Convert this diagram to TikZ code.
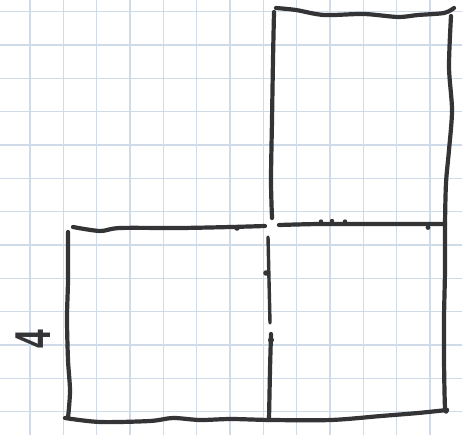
\documentclass[tikz,border=0pt]{standalone}
\usepackage{fontspec}
\newfontfamily\handfont{Liberation Sans}
\definecolor{gridblue}{RGB}{208,219,234}
\definecolor{ink}{RGB}{52,52,54}
\begin{document}
\begin{tikzpicture}[x=1pt,y=-1pt,
  gridline/.style={gridblue,line width=1.5pt},
  pen/.style={ink,line width=4.2pt,line cap=round,line join=round},
  blob/.style={ink,fill=ink}]
\useasboundingbox (0,0) rectangle (462,435);
\fill[white] (0,0) rectangle (462,435);
% grid paper
\foreach \i in {0,...,13} {
  \draw[gridline] ({30+33.33*\i},0) -- ({30+33.33*\i},435);
}
\foreach \j in {0,...,12} {
  \draw[gridline] (0,{11.7+33.33*\j}) -- (462,{11.7+33.33*\j});
}
% top-right square
\draw[pen] plot[smooth,tension=0.5] coordinates {(274,12) (273,60) (272,120) (271,180) (272,218)};
\draw[pen] plot[smooth,tension=0.5] coordinates {(276,8) (296,10) (324,15) (364,14) (398,17) (418,15) (444,13) (454,8)};
\draw[pen] plot[smooth,tension=0.5] coordinates {(451,16) (449,67) (452,110) (449,150) (446,183) (445,225) (445,270) (444,318) (444,360) (445,408) (447,410)};
% middle horizontal line
\draw[pen] plot[smooth,tension=0.5] coordinates {(73,227) (100,231) (120,228) (180,228) (231,227) (265,226)};
\draw[pen] plot[smooth,tension=0.5] coordinates {(279,225) (320,224) (380,224) (445,224)};
% bottom-left rectangle
\draw[pen] plot[smooth,tension=0.5] coordinates {(68,232) (68,280) (67,318) (68,360) (70,391) (68,418)};
\draw[pen] plot[smooth,tension=0.5] coordinates {(65,418) (100,422) (150,421) (173,418) (200,420) (231,419) (271,420) (331,420) (381,416) (418,413) (447,410)};
% divider
\draw[pen,line width=3.4pt] plot[smooth,tension=0.5] coordinates {(268,237) (269,280) (270,323)};
\draw[pen] plot[smooth,tension=0.5] coordinates {(271,334) (270,370) (269,420)};
% marks
\fill[blob] (266,273) circle (2.8);
\fill[blob] (271,340) circle (3);
\fill[blob] (321,221.5) circle (2.2);
\fill[blob] (332,221) circle (2.2);
\fill[blob] (345,221.5) circle (2.2);
\fill[blob] (428,227.5) circle (2.4);
\fill[blob] (237,228) circle (2.8);
% label
\node[ink,rotate=90,inner sep=0pt] (four) at (33,339) {\handfont\bfseries\scalebox{0.8}[1.2]{\fontsize{42}{42}\selectfont 4}};
\end{tikzpicture}
\end{document}
